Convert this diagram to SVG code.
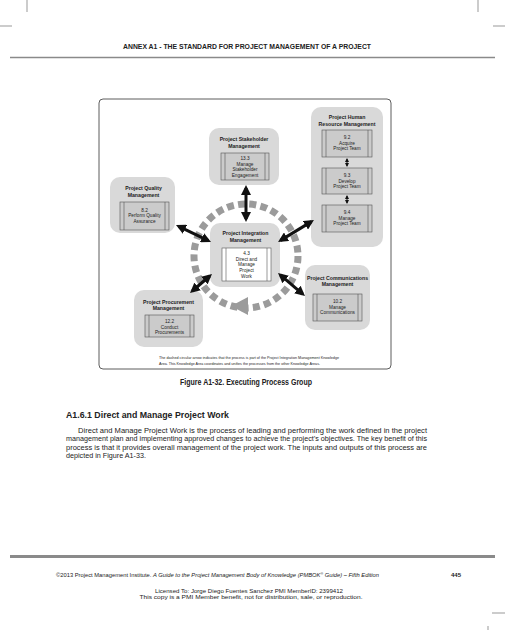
<svg xmlns="http://www.w3.org/2000/svg" width="505" height="640" viewBox="0 0 505 640">
<defs>
<style>
.ka{fill:#d9d9d9;stroke:none}
.pb{fill:#cbcbcb;stroke:#555;stroke-width:0.6}
.pw{fill:#ffffff;stroke:#555;stroke-width:0.6}
.sl{stroke:#555;stroke-width:0.6}
.t{font-family:"Liberation Sans",Arial,sans-serif;font-weight:bold;font-size:5.2px;fill:#222;text-anchor:middle}
.p{font-family:"Liberation Sans",Arial,sans-serif;font-size:4.7px;fill:#222;text-anchor:middle}
.conn{stroke:#111;stroke-width:3;fill:none;marker-start:url(#ah);marker-end:url(#ah)}
.small{stroke:#111;stroke-width:1;fill:none;marker-start:url(#sah);marker-end:url(#sah)}
.txt{font-family:"Liberation Sans",Arial,sans-serif;fill:#222}
.mark{stroke:#999;stroke-width:1}
</style>
<marker id="ah" markerUnits="userSpaceOnUse" markerWidth="10" markerHeight="10" viewBox="0 0 10 10" refX="7" refY="5" orient="auto-start-reverse">
<path d="M0,0 L10,5 L0,10 z" fill="#111"/>
</marker>
<marker id="sah" markerUnits="userSpaceOnUse" markerWidth="4" markerHeight="4" viewBox="0 0 4 4" refX="3" refY="2" orient="auto-start-reverse">
<path d="M0,0 L4,2 L0,4 z" fill="#111"/>
</marker>
</defs>
<rect width="505" height="640" fill="#ffffff"/>

<!-- crop marks -->
<line class="mark" x1="27" y1="0" x2="27" y2="12"/>
<line class="mark" x1="478" y1="0" x2="478" y2="12"/>
<line class="mark" x1="0" y1="26" x2="12" y2="26"/>
<line class="mark" x1="493" y1="26" x2="505" y2="26"/>
<line class="mark" x1="492" y1="613" x2="505" y2="613"/>
<line class="mark" x1="488" y1="626" x2="488" y2="630"/>

<!-- header -->
<text class="txt" x="123" y="48.5" font-size="6.6" font-weight="bold" textLength="248" lengthAdjust="spacingAndGlyphs" fill="#333">ANNEX A1 - THE STANDARD FOR PROJECT MANAGEMENT OF A PROJECT</text>
<line x1="10" y1="57.5" x2="495" y2="57.5" stroke="#8a8a8a" stroke-width="1.5"/>

<!-- frame -->
<rect x="99" y="99" width="292" height="270" rx="4" fill="none" stroke="#333" stroke-width="0.8"/>

<!-- dashed circular arrow -->
<g id="integration-cycle">
<circle cx="246" cy="256" r="52" fill="none" stroke="#9b9b9b" stroke-width="7" stroke-dasharray="7 4.27"/>
<polygon points="231,306 248,297 248,315" fill="#9b9b9b"/>
</g>

<g id="stakeholder">
<rect class="ka" x="209" y="128" width="70" height="57" rx="10"/>
<text class="t" x="244" y="141">Project Stakeholder</text>
<text class="t" x="244" y="147.5">Management</text>
<rect class="pb" x="221" y="153" width="48" height="27"/>
<line class="sl" x1="225" y1="153" x2="225" y2="180"/>
<line class="sl" x1="265" y1="153" x2="265" y2="180"/>
<text class="p" x="245" y="160">13.3</text>
<text class="p" x="245" y="165.7">Manage</text>
<text class="p" x="245" y="171.4">Stakeholder</text>
<text class="p" x="245" y="177.1">Engagement</text>
</g>

<g id="quality">
<rect class="ka" x="110" y="177" width="65" height="56" rx="10"/>
<text class="t" x="143.5" y="190">Project Quality</text>
<text class="t" x="143.5" y="196.5">Management</text>
<rect class="pb" x="120" y="202" width="49" height="28"/>
<line class="sl" x1="124" y1="202" x2="124" y2="230"/>
<line class="sl" x1="165" y1="202" x2="165" y2="230"/>
<text class="p" x="144.5" y="211.5">8.2</text>
<text class="p" x="144.5" y="217.3">Perform Quality</text>
<text class="p" x="144.5" y="223.1">Assurance</text>
</g>

<g id="human-resource">
<rect class="ka" x="311" y="107" width="72" height="140" rx="10"/>
<text class="t" x="347" y="119">Project Human</text>
<text class="t" x="347" y="125.8">Resource Management</text>
<rect class="pb" x="322" y="130" width="50" height="27"/>
<line class="sl" x1="326" y1="130" x2="326" y2="157"/>
<line class="sl" x1="368" y1="130" x2="368" y2="157"/>
<text class="p" x="347" y="138.8">9.2</text>
<text class="p" x="347" y="144.6">Acquire</text>
<text class="p" x="347" y="150.4">Project Team</text>
<rect class="pb" x="322" y="168" width="50" height="26"/>
<line class="sl" x1="326" y1="168" x2="326" y2="194"/>
<line class="sl" x1="368" y1="168" x2="368" y2="194"/>
<text class="p" x="347" y="176.8">9.3</text>
<text class="p" x="347" y="182.5">Develop</text>
<text class="p" x="347" y="188.2">Project Team</text>
<rect class="pb" x="322" y="205" width="50" height="27"/>
<line class="sl" x1="326" y1="205" x2="326" y2="232"/>
<line class="sl" x1="368" y1="205" x2="368" y2="232"/>
<text class="p" x="347" y="213.8">9.4</text>
<text class="p" x="347" y="219.6">Manage</text>
<text class="p" x="347" y="225.4">Project Team</text>
</g>

<g id="integration">
<rect class="ka" x="210" y="223" width="70" height="64" rx="10"/>
<text class="t" x="245.5" y="235">Project Integration</text>
<text class="t" x="245.5" y="241.5">Management</text>
<rect class="pw" x="222" y="248" width="49" height="33"/>
<line class="sl" x1="226" y1="248" x2="226" y2="281"/>
<line class="sl" x1="267" y1="248" x2="267" y2="281"/>
<text class="p" x="246.5" y="255">4.3</text>
<text class="p" x="246.5" y="260.7">Direct and</text>
<text class="p" x="246.5" y="266.4">Manage</text>
<text class="p" x="246.5" y="272.1">Project</text>
<text class="p" x="246.5" y="277.8">Work</text>
</g>

<g id="communications">
<rect class="ka" x="305" y="265" width="65" height="65" rx="10"/>
<text class="t" x="337.5" y="280">Project Communications</text>
<text class="t" x="337.5" y="286.2">Management</text>
<rect class="pb" x="313" y="294" width="49" height="27"/>
<line class="sl" x1="317" y1="294" x2="317" y2="321"/>
<line class="sl" x1="358" y1="294" x2="358" y2="321"/>
<text class="p" x="337.5" y="302.8">10.2</text>
<text class="p" x="337.5" y="308.6">Manage</text>
<text class="p" x="337.5" y="314.4">Communications</text>
</g>

<g id="procurement">
<rect class="ka" x="134" y="290" width="69" height="57" rx="10"/>
<text class="t" x="168.5" y="304">Project Procurement</text>
<text class="t" x="168.5" y="310.2">Management</text>
<rect class="pb" x="145" y="315" width="49" height="22"/>
<line class="sl" x1="149" y1="315" x2="149" y2="337"/>
<line class="sl" x1="190" y1="315" x2="190" y2="337"/>
<text class="p" x="169.5" y="322.7">12.2</text>
<text class="p" x="169.5" y="328.5">Conduct</text>
<text class="p" x="169.5" y="334.3">Procurements</text>
</g>

<g id="connectors">
<line class="conn" x1="246" y1="188" x2="246" y2="219"/>
<line class="conn" x1="178.7" y1="226.3" x2="208.3" y2="240.7"/>
<line class="conn" x1="280.6" y1="240.4" x2="311.4" y2="221.6"/>
<line class="conn" x1="209.7" y1="276" x2="192.3" y2="291"/>
<line class="conn" x1="280.3" y1="274.9" x2="302.7" y2="294.1"/>
<line class="small" x1="347" y1="159" x2="347" y2="166"/>
<line class="small" x1="347" y1="196" x2="347" y2="203"/>
</g>

<!-- footnote -->
<text class="txt" x="159" y="358.5" font-size="4.3" textLength="180" lengthAdjust="spacingAndGlyphs">The dashed circular arrow indicates that the process is part of the Project Integration Management Knowledge</text>
<text class="txt" x="159" y="364.5" font-size="4.3" textLength="161" lengthAdjust="spacingAndGlyphs">Area. This Knowledge Area coordinates and unifies the processes from the other Knowledge Areas.</text>

<!-- caption -->
<text class="txt" x="180" y="385" font-size="8.8" font-weight="bold" textLength="132" lengthAdjust="spacingAndGlyphs" fill="#111">Figure A1-32. Executing Process Group</text>

<!-- body -->
<text class="txt" x="66" y="417.5" font-size="9.6" font-weight="bold" textLength="163" lengthAdjust="spacingAndGlyphs" fill="#111">A1.6.1 Direct and Manage Project Work</text>
<text class="txt" x="78" y="433.3" font-size="7.2" textLength="349" lengthAdjust="spacingAndGlyphs">Direct and Manage Project Work is the process of leading and performing the work defined in the project</text>
<text class="txt" x="66" y="441.4" font-size="7.2" textLength="361" lengthAdjust="spacingAndGlyphs">management plan and implementing approved changes to achieve the project’s objectives. The key benefit of this</text>
<text class="txt" x="66" y="449.5" font-size="7.2" textLength="361" lengthAdjust="spacingAndGlyphs">process is that it provides overall management of the project work. The inputs and outputs of this process are</text>
<text class="txt" x="66" y="457.6" font-size="7.2" textLength="80" lengthAdjust="spacingAndGlyphs">depicted in Figure A1-33.</text>

<!-- footer -->
<line x1="10" y1="556.5" x2="495" y2="556.5" stroke="#8a8a8a" stroke-width="3"/>
<text class="txt" x="56" y="577" font-size="5.6" textLength="323" lengthAdjust="spacingAndGlyphs" fill="#333">©2013 Project Management Institute. <tspan font-style="italic">A Guide to the Project Management Body of Knowledge (PMBOK<tspan font-size="3.5" dy="-2">®</tspan><tspan dy="2"> Guide) – Fifth Edition</tspan></tspan></text>
<text class="txt" x="451" y="577" font-size="6.2" font-weight="bold" textLength="10" lengthAdjust="spacingAndGlyphs" fill="#333">445</text>
<text class="txt" x="249" y="593" font-size="6.2" text-anchor="middle" textLength="188" lengthAdjust="spacingAndGlyphs" fill="#333">Licensed To: Jorge Diego Fuentes Sanchez PMI MemberID: 2399412</text>
<text class="txt" x="251" y="599.3" font-size="6.2" text-anchor="middle" textLength="223" lengthAdjust="spacingAndGlyphs" fill="#333">This copy is a PMI Member benefit, not for distribution, sale, or reproduction.</text>
</svg>
